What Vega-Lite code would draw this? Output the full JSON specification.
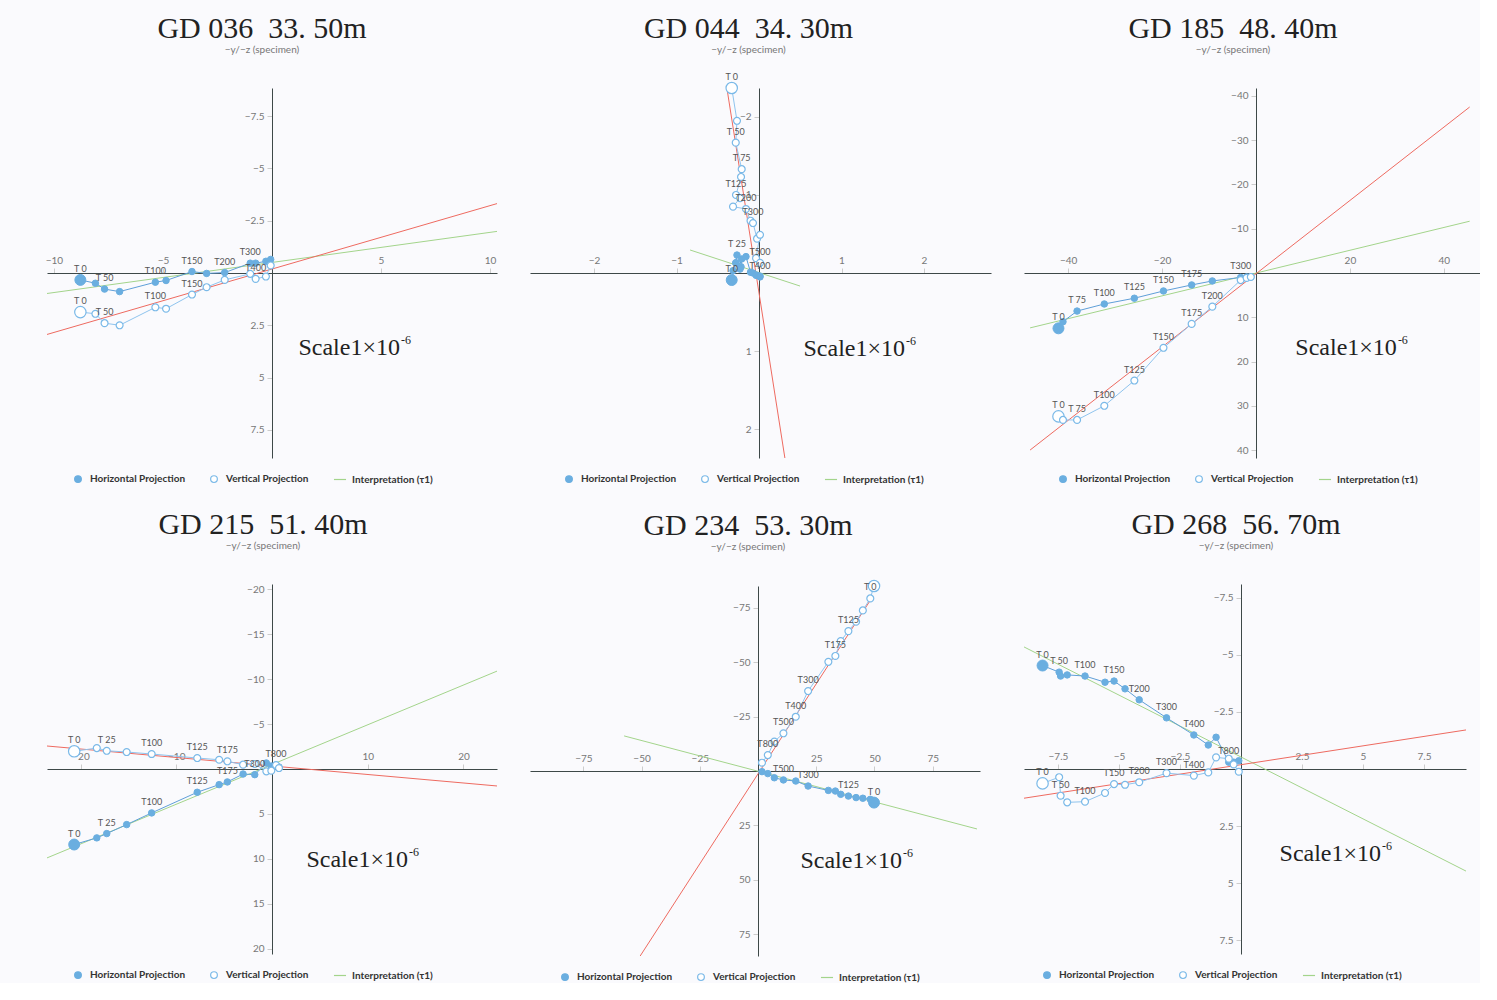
{
  "$schema": "https://vega.github.io/schema/vega-lite/v6.json",
  "background": "#fafafd",
  "padding": {"left": 45, "top": 14, "right": 0, "bottom": 0},
  "columns": 3,
  "align": "none",
  "spacing": {"row": 25, "column": 33},
  "resolve": {
    "scale": {"fill": "independent", "stroke": "independent", "shape": "independent"},
    "legend": {"fill": "independent", "stroke": "independent", "shape": "independent"}
  },
  "datasets": {
    "d": [
      {"t":"h","p":1,"i":1,"x":-8.79,"y":0.33,"lab":"T 0"},
      {"t":"h","p":1,"i":2,"x":-8.1,"y":0.49},
      {"t":"h","p":1,"i":3,"x":-7.68,"y":0.77,"lab":"T 50"},
      {"t":"h","p":1,"i":4,"x":-6.99,"y":0.89},
      {"t":"h","p":1,"i":5,"x":-5.35,"y":0.44,"lab":"T100"},
      {"t":"h","p":1,"i":6,"x":-4.86,"y":0.36},
      {"t":"h","p":1,"i":7,"x":-3.67,"y":-0.07,"lab":"T150"},
      {"t":"h","p":1,"i":8,"x":-3.0,"y":0.02},
      {"t":"h","p":1,"i":9,"x":-2.17,"y":-0.02,"lab":"T200"},
      {"t":"h","p":1,"i":10,"x":-1.0,"y":-0.47,"lab":"T300"},
      {"t":"h","p":1,"i":11,"x":-0.75,"y":-0.47},
      {"t":"h","p":1,"i":12,"x":-0.28,"y":-0.56},
      {"t":"h","p":1,"i":13,"x":-0.06,"y":-0.65},
      {"t":"v","p":1,"i":1,"x":-8.79,"y":1.87,"lab":"T 0"},
      {"t":"v","p":1,"i":2,"x":-8.1,"y":1.95},
      {"t":"v","p":1,"i":3,"x":-7.68,"y":2.4,"lab":"T 50"},
      {"t":"v","p":1,"i":4,"x":-6.99,"y":2.5},
      {"t":"v","p":1,"i":5,"x":-5.35,"y":1.64,"lab":"T100"},
      {"t":"v","p":1,"i":6,"x":-4.86,"y":1.71},
      {"t":"v","p":1,"i":7,"x":-3.67,"y":1.03,"lab":"T150"},
      {"t":"v","p":1,"i":8,"x":-3.0,"y":0.68},
      {"t":"v","p":1,"i":9,"x":-2.17,"y":0.33},
      {"t":"v","p":1,"i":10,"x":-1.0,"y":0.04},
      {"t":"v","p":1,"i":11,"x":-0.75,"y":0.28,"lab":"T400"},
      {"t":"v","p":1,"i":12,"x":-0.28,"y":0.17},
      {"t":"v","p":1,"i":13,"x":-0.06,"y":-0.36},
      {"t":"lh","p":1,"x":-10.32,"y":0.98},
      {"t":"lh","p":1,"x":10.32,"y":-1.99},
      {"t":"lv","p":1,"x":-10.32,"y":2.94},
      {"t":"lv","p":1,"x":10.32,"y":-3.32},
      {"t":"s","p":1,"x":5.87,"y":3.6},

      {"t":"h","p":2,"i":1,"x":-0.331,"y":0.09,"lab":"T 0"},
      {"t":"h","p":2,"i":2,"x":-0.267,"y":-0.23,"lab":"T 25"},
      {"t":"h","p":2,"i":3,"x":-0.282,"y":-0.13},
      {"t":"h","p":2,"i":4,"x":-0.21,"y":-0.18},
      {"t":"h","p":2,"i":5,"x":-0.218,"y":-0.08},
      {"t":"h","p":2,"i":6,"x":-0.279,"y":-0.13},
      {"t":"h","p":2,"i":7,"x":-0.23,"y":-0.05},
      {"t":"h","p":2,"i":8,"x":-0.315,"y":-0.03},
      {"t":"h","p":2,"i":9,"x":-0.158,"y":-0.21},
      {"t":"h","p":2,"i":10,"x":-0.103,"y":-0.01},
      {"t":"h","p":2,"i":11,"x":-0.073,"y":0.0},
      {"t":"h","p":2,"i":12,"x":-0.024,"y":0.03},
      {"t":"h","p":2,"i":13,"x":0.012,"y":0.05,"lab":"T400"},
      {"t":"h","p":2,"i":14,"x":-0.036,"y":0.03},
      {"t":"h","p":2,"i":15,"x":0.012,"y":0.04},
      {"t":"v","p":2,"i":1,"x":-0.331,"y":-2.37,"lab":"T 0"},
      {"t":"v","p":2,"i":2,"x":-0.267,"y":-1.95},
      {"t":"v","p":2,"i":3,"x":-0.282,"y":-1.67,"lab":"T 50"},
      {"t":"v","p":2,"i":4,"x":-0.21,"y":-1.33,"lab":"T 75"},
      {"t":"v","p":2,"i":5,"x":-0.218,"y":-1.23},
      {"t":"v","p":2,"i":6,"x":-0.279,"y":-1.0,"lab":"T125"},
      {"t":"v","p":2,"i":7,"x":-0.23,"y":-0.96},
      {"t":"v","p":2,"i":8,"x":-0.315,"y":-0.85},
      {"t":"v","p":2,"i":9,"x":-0.158,"y":-0.82,"lab":"T200"},
      {"t":"v","p":2,"i":10,"x":-0.103,"y":-0.67},
      {"t":"v","p":2,"i":11,"x":-0.073,"y":-0.64,"lab":"T300"},
      {"t":"v","p":2,"i":12,"x":-0.024,"y":-0.44},
      {"t":"v","p":2,"i":13,"x":0.012,"y":-0.49},
      {"t":"v","p":2,"i":14,"x":-0.036,"y":-0.19},
      {"t":"v","p":2,"i":15,"x":0.012,"y":-0.13,"lab":"T500"},
      {"t":"lh","p":2,"x":-0.836,"y":-0.295},
      {"t":"lh","p":2,"x":0.497,"y":0.167},
      {"t":"lv","p":2,"x":-0.388,"y":-2.36},
      {"t":"lv","p":2,"x":0.315,"y":2.38},
      {"t":"s","p":2,"x":1.77,"y":0.97},

      {"t":"h","p":3,"i":1,"x":-42.06,"y":12.5,"lab":"T 0"},
      {"t":"h","p":3,"i":2,"x":-41.1,"y":11.0},
      {"t":"h","p":3,"i":3,"x":-38.1,"y":8.6,"lab":"T 75"},
      {"t":"h","p":3,"i":4,"x":-32.3,"y":7.0,"lab":"T100"},
      {"t":"h","p":3,"i":5,"x":-25.9,"y":5.7,"lab":"T125"},
      {"t":"h","p":3,"i":6,"x":-19.7,"y":4.06,"lab":"T150"},
      {"t":"h","p":3,"i":7,"x":-13.7,"y":2.7,"lab":"T175"},
      {"t":"h","p":3,"i":8,"x":-9.3,"y":1.8},
      {"t":"h","p":3,"i":9,"x":-3.26,"y":1.0,"lab":"T300"},
      {"t":"h","p":3,"i":10,"x":-2.0,"y":0.9},
      {"t":"h","p":3,"i":11,"x":-1.1,"y":0.9},
      {"t":"v","p":3,"i":1,"x":-42.06,"y":32.4,"lab":"T 0"},
      {"t":"v","p":3,"i":2,"x":-41.1,"y":33.2},
      {"t":"v","p":3,"i":3,"x":-38.1,"y":33.2,"lab":"T 75"},
      {"t":"v","p":3,"i":4,"x":-32.3,"y":30.0,"lab":"T100"},
      {"t":"v","p":3,"i":5,"x":-25.9,"y":24.3,"lab":"T125"},
      {"t":"v","p":3,"i":6,"x":-19.7,"y":16.9,"lab":"T150"},
      {"t":"v","p":3,"i":7,"x":-13.7,"y":11.5,"lab":"T175"},
      {"t":"v","p":3,"i":8,"x":-9.3,"y":7.6,"lab":"T200"},
      {"t":"v","p":3,"i":9,"x":-3.26,"y":1.6},
      {"t":"v","p":3,"i":10,"x":-2.0,"y":1.1},
      {"t":"v","p":3,"i":11,"x":-1.1,"y":0.9},
      {"t":"lh","p":3,"x":-48.1,"y":12.4},
      {"t":"lh","p":3,"x":45.5,"y":-11.7},
      {"t":"lv","p":3,"x":-48.1,"y":40.0},
      {"t":"lv","p":3,"x":45.5,"y":-37.5},
      {"t":"s","p":3,"x":30.0,"y":16.9},

      {"t":"h","p":4,"i":1,"x":-20.66,"y":8.41,"lab":"T 0"},
      {"t":"h","p":4,"i":2,"x":-18.3,"y":7.67},
      {"t":"h","p":4,"i":3,"x":-17.26,"y":7.19,"lab":"T 25"},
      {"t":"h","p":4,"i":4,"x":-15.18,"y":6.19},
      {"t":"h","p":4,"i":5,"x":-12.57,"y":4.89,"lab":"T100"},
      {"t":"h","p":4,"i":6,"x":-7.81,"y":2.59,"lab":"T125"},
      {"t":"h","p":4,"i":7,"x":-5.52,"y":1.74},
      {"t":"h","p":4,"i":8,"x":-4.66,"y":1.44,"lab":"T175"},
      {"t":"h","p":4,"i":9,"x":-3.02,"y":0.56},
      {"t":"h","p":4,"i":10,"x":-1.8,"y":0.63,"lab":"T300"},
      {"t":"h","p":4,"i":11,"x":-0.59,"y":-0.67},
      {"t":"h","p":4,"i":12,"x":-0.07,"y":-0.33},
      {"t":"h","p":4,"i":13,"x":0.42,"y":-0.44},
      {"t":"h","p":4,"i":14,"x":0.73,"y":-0.22},
      {"t":"v","p":4,"i":1,"x":-20.66,"y":-1.97,"lab":"T 0"},
      {"t":"v","p":4,"i":2,"x":-18.3,"y":-2.33},
      {"t":"v","p":4,"i":3,"x":-17.26,"y":-2.03,"lab":"T 25"},
      {"t":"v","p":4,"i":4,"x":-15.18,"y":-1.89},
      {"t":"v","p":4,"i":5,"x":-12.57,"y":-1.67,"lab":"T100"},
      {"t":"v","p":4,"i":6,"x":-7.81,"y":-1.22,"lab":"T125"},
      {"t":"v","p":4,"i":7,"x":-5.52,"y":-1.03},
      {"t":"v","p":4,"i":8,"x":-4.66,"y":-0.86,"lab":"T175"},
      {"t":"v","p":4,"i":9,"x":-3.02,"y":-0.48},
      {"t":"v","p":4,"i":10,"x":-1.8,"y":-0.56},
      {"t":"v","p":4,"i":11,"x":-0.59,"y":0.26},
      {"t":"v","p":4,"i":12,"x":-0.07,"y":0.19},
      {"t":"v","p":4,"i":13,"x":0.42,"y":-0.44,"lab":"T800"},
      {"t":"v","p":4,"i":14,"x":0.73,"y":-0.11},
      {"t":"lh","p":4,"x":-23.5,"y":9.9},
      {"t":"lh","p":4,"x":23.5,"y":-10.9},
      {"t":"lv","p":4,"x":-23.5,"y":-2.56},
      {"t":"lv","p":4,"x":23.5,"y":1.89},
      {"t":"s","p":4,"x":14.2,"y":10.1},

      {"t":"h","p":5,"i":1,"x":49.8,"y":14.5,"lab":"T 0"},
      {"t":"h","p":5,"i":2,"x":48.2,"y":13.0},
      {"t":"h","p":5,"i":3,"x":45.0,"y":12.5},
      {"t":"h","p":5,"i":4,"x":42.1,"y":12.2},
      {"t":"h","p":5,"i":5,"x":38.8,"y":11.5,"lab":"T125"},
      {"t":"h","p":5,"i":6,"x":35.5,"y":10.7},
      {"t":"h","p":5,"i":7,"x":33.2,"y":9.2},
      {"t":"h","p":5,"i":8,"x":30.2,"y":8.9},
      {"t":"h","p":5,"i":9,"x":21.5,"y":6.9,"lab":"T300"},
      {"t":"h","p":5,"i":10,"x":16.2,"y":4.6},
      {"t":"h","p":5,"i":11,"x":10.9,"y":4.1,"lab":"T500"},
      {"t":"h","p":5,"i":12,"x":7.0,"y":3.1},
      {"t":"h","p":5,"i":13,"x":4.2,"y":1.2},
      {"t":"h","p":5,"i":14,"x":1.7,"y":0.3},
      {"t":"v","p":5,"i":1,"x":49.8,"y":-84.9},
      {"t":"v","p":5,"i":2,"x":48.2,"y":-79.2,"lab":"T 0"},
      {"t":"v","p":5,"i":3,"x":45.0,"y":-73.7},
      {"t":"v","p":5,"i":4,"x":42.1,"y":-68.5},
      {"t":"v","p":5,"i":5,"x":38.8,"y":-64.2,"lab":"T125"},
      {"t":"v","p":5,"i":6,"x":35.5,"y":-59.6},
      {"t":"v","p":5,"i":7,"x":33.2,"y":-52.8,"lab":"T175"},
      {"t":"v","p":5,"i":8,"x":30.2,"y":-50.1},
      {"t":"v","p":5,"i":9,"x":21.5,"y":-36.7,"lab":"T300"},
      {"t":"v","p":5,"i":10,"x":16.2,"y":-24.9,"lab":"T400"},
      {"t":"v","p":5,"i":11,"x":10.9,"y":-17.3,"lab":"T500"},
      {"t":"v","p":5,"i":12,"x":7.0,"y":-13.5},
      {"t":"v","p":5,"i":13,"x":4.2,"y":-7.3,"lab":"T800"},
      {"t":"v","p":5,"i":14,"x":1.7,"y":-3.8},
      {"t":"lh","p":5,"x":-57.5,"y":-16.1},
      {"t":"lh","p":5,"x":94.0,"y":26.6},
      {"t":"lv","p":5,"x":-50.6,"y":84.9},
      {"t":"lv","p":5,"x":49.4,"y":-80.3},
      {"t":"s","p":5,"x":61.8,"y":41.3},

      {"t":"h","p":6,"i":1,"x":-8.13,"y":-4.53,"lab":"T 0"},
      {"t":"h","p":6,"i":2,"x":-7.45,"y":-4.24,"lab":"T 50"},
      {"t":"h","p":6,"i":3,"x":-7.39,"y":-4.07},
      {"t":"h","p":6,"i":4,"x":-7.12,"y":-4.12},
      {"t":"h","p":6,"i":5,"x":-6.39,"y":-4.07,"lab":"T100"},
      {"t":"h","p":6,"i":6,"x":-5.57,"y":-3.8},
      {"t":"h","p":6,"i":7,"x":-5.2,"y":-3.85,"lab":"T150"},
      {"t":"h","p":6,"i":8,"x":-4.75,"y":-3.51},
      {"t":"h","p":6,"i":9,"x":-4.17,"y":-3.03,"lab":"T200"},
      {"t":"h","p":6,"i":10,"x":-3.05,"y":-2.24,"lab":"T300"},
      {"t":"h","p":6,"i":11,"x":-1.93,"y":-1.49,"lab":"T400"},
      {"t":"h","p":6,"i":12,"x":-1.34,"y":-1.05},
      {"t":"h","p":6,"i":13,"x":-1.02,"y":-1.39},
      {"t":"h","p":6,"i":14,"x":-0.5,"y":-0.3,"lab":"T800"},
      {"t":"h","p":6,"i":15,"x":-0.3,"y":-0.3},
      {"t":"h","p":6,"i":16,"x":-0.09,"y":-0.36},
      {"t":"v","p":6,"i":1,"x":-8.13,"y":0.63,"lab":"T 0"},
      {"t":"v","p":6,"i":2,"x":-7.45,"y":0.36},
      {"t":"v","p":6,"i":3,"x":-7.39,"y":1.17,"lab":"T 50"},
      {"t":"v","p":6,"i":4,"x":-7.12,"y":1.46},
      {"t":"v","p":6,"i":5,"x":-6.39,"y":1.43,"lab":"T100"},
      {"t":"v","p":6,"i":6,"x":-5.57,"y":1.05},
      {"t":"v","p":6,"i":7,"x":-5.2,"y":0.66,"lab":"T150"},
      {"t":"v","p":6,"i":8,"x":-4.75,"y":0.69},
      {"t":"v","p":6,"i":9,"x":-4.17,"y":0.58,"lab":"T200"},
      {"t":"v","p":6,"i":10,"x":-3.05,"y":0.18,"lab":"T300"},
      {"t":"v","p":6,"i":11,"x":-1.93,"y":0.29,"lab":"T400"},
      {"t":"v","p":6,"i":12,"x":-1.34,"y":0.15},
      {"t":"v","p":6,"i":13,"x":-1.02,"y":-0.51},
      {"t":"v","p":6,"i":14,"x":-0.5,"y":-0.45},
      {"t":"v","p":6,"i":15,"x":-0.3,"y":-0.2},
      {"t":"v","p":6,"i":16,"x":-0.09,"y":0.12},
      {"t":"lh","p":6,"x":-9.14,"y":-5.48},
      {"t":"lh","p":6,"x":9.22,"y":4.47},
      {"t":"lv","p":6,"x":-9.14,"y":1.32},
      {"t":"lv","p":6,"x":9.22,"y":-1.71},
      {"t":"s","p":6,"x":5.74,"y":3.7}
    ]
  },
  "concat": [
    {
      "width": 450, "height": 370,
      "title": {"text": "GD 036\u00a0\u00a033. 50m", "subtitle": "−y/−z (specimen)", "dx": -10},
      "data": {"name": "d"},
      "transform": [{"filter": "datum.p == 1"}],
      "encoding": {
        "x": {"field": "x", "type": "quantitative", "scale": {"domain": [-10.32, 10.32], "nice": false, "zero": false}, "axis": {"orient": "top", "offset": -185, "values": [-10, -5, 5, 10], "format": ".3~r"}},
        "y": {"field": "y", "type": "quantitative", "scale": {"domain": [-8.85, 8.85], "nice": false, "zero": false, "reverse": true}, "axis": {"orient": "left", "offset": -225, "values": [-7.5, -5, -2.5, 2.5, 5, 7.5], "format": ".3~r"}}
      },
      "layer": [
        {"transform": [{"filter": "datum.t == 'lh' || datum.t == 'lv'"}], "mark": {"type": "line", "clip": true, "strokeWidth": 1}, "encoding": {"detail": {"field": "t"}, "stroke": {"condition": {"test": "datum.t == 'lh'", "value": "#a3d48b"}, "value": "#ee6a60"}}},
        {"transform": [{"filter": "datum.t == 'h'"}], "mark": {"type": "line", "color": "#5f9fd8", "strokeWidth": 1}, "encoding": {"order": {"field": "i"}}},
        {"transform": [{"filter": "datum.t == 'v'"}], "mark": {"type": "line", "color": "#8fc4ee", "strokeWidth": 1}, "encoding": {"order": {"field": "i"}}},
        {"transform": [{"filter": "datum.t == 'h'"}], "mark": {"type": "point", "opacity": 1, "strokeWidth": 1},
         "encoding": {
           "size": {"condition": {"test": "datum.i == 1", "value": 120}, "value": 42},
           "fill": {"datum": "Horizontal Projection", "type": "nominal", "scale": {"domain": ["Horizontal Projection", "Vertical Projection", "Interpretation (τ1)"], "range": ["#6aaee0", "#ffffff", "transparent"]}, "legend": {"orient": "none", "legendX": 26, "legendY": 386, "direction": "horizontal", "title": null}},
           "stroke": {"datum": "Horizontal Projection", "type": "nominal", "scale": {"domain": ["Horizontal Projection", "Vertical Projection", "Interpretation (τ1)"], "range": ["#6aaee0", "#7ab9e8", "#a3d48b"]}, "legend": {"orient": "none", "legendX": 26, "legendY": 386, "direction": "horizontal", "title": null}},
           "shape": {"datum": "Horizontal Projection", "type": "nominal", "scale": {"domain": ["Horizontal Projection", "Vertical Projection", "Interpretation (τ1)"], "range": ["circle", "circle", "M-1.8,0H1.8"]}, "legend": {"orient": "none", "legendX": 26, "legendY": 386, "direction": "horizontal", "title": null}}
         }},
        {"transform": [{"filter": "datum.t == 'v'"}], "mark": {"type": "point", "opacity": 1, "strokeWidth": 1.2},
         "encoding": {
           "size": {"condition": {"test": "datum.i == 1", "value": 130}, "value": 48},
           "fill": {"datum": "Vertical Projection", "type": "nominal"},
           "stroke": {"datum": "Vertical Projection", "type": "nominal"},
           "shape": {"datum": "Vertical Projection", "type": "nominal"}
         }},
        {"transform": [{"filter": "(datum.t == 'h' || datum.t == 'v') && datum.lab"}], "mark": {"type": "text", "dy": -11, "fontSize": 9, "font": "Lato", "color": "#555555"}, "encoding": {"text": {"field": "lab"}}},
        {"transform": [{"filter": "datum.t == 's'"}], "mark": {"type": "text", "align": "right", "baseline": "middle", "font": "Liberation Serif", "fontSize": 24, "color": "#222222"}, "encoding": {"text": {"value": "Scale1×10"}}},
        {"transform": [{"filter": "datum.t == 's'"}], "mark": {"type": "text", "align": "left", "baseline": "middle", "dy": -8, "dx": 1, "font": "Liberation Serif", "fontSize": 12, "color": "#222222"}, "encoding": {"text": {"value": "-6"}}}
      ]
    },
    {
      "width": 461, "height": 370,
      "title": {"text": "GD 044\u00a0\u00a034. 30m", "subtitle": "−y/−z (specimen)", "dx": -12, "offset": 18},
      "data": {"name": "d"},
      "transform": [{"filter": "datum.p == 2"}],
      "encoding": {
        "x": {"field": "x", "type": "quantitative", "scale": {"domain": [-2.776, 2.812], "nice": false, "zero": false}, "axis": {"orient": "top", "offset": -185, "values": [-2, -1, 1, 2], "format": ".3~r"}},
        "y": {"field": "y", "type": "quantitative", "scale": {"domain": [-2.37, 2.37], "nice": false, "zero": false, "reverse": true}, "axis": {"orient": "left", "offset": -229, "values": [-2, -1, 1, 2], "format": ".3~r"}}
      },
      "layer": [
        {"transform": [{"filter": "datum.t == 'lh' || datum.t == 'lv'"}], "mark": {"type": "line", "clip": true, "strokeWidth": 1}, "encoding": {"detail": {"field": "t"}, "stroke": {"condition": {"test": "datum.t == 'lh'", "value": "#a3d48b"}, "value": "#ee6a60"}}},
        {"transform": [{"filter": "datum.t == 'h'"}], "mark": {"type": "line", "color": "#5f9fd8", "strokeWidth": 1}, "encoding": {"order": {"field": "i"}}},
        {"transform": [{"filter": "datum.t == 'v'"}], "mark": {"type": "line", "color": "#8fc4ee", "strokeWidth": 1}, "encoding": {"order": {"field": "i"}}},
        {"transform": [{"filter": "datum.t == 'h'"}], "mark": {"type": "point", "opacity": 1, "strokeWidth": 1},
         "encoding": {
           "size": {"condition": {"test": "datum.i == 1", "value": 120}, "value": 42},
           "fill": {"datum": "Horizontal Projection", "type": "nominal", "scale": {"domain": ["Horizontal Projection", "Vertical Projection", "Interpretation (τ1)"], "range": ["#6aaee0", "#ffffff", "transparent"]}, "legend": {"orient": "none", "legendX": 34, "legendY": 386, "direction": "horizontal", "title": null}},
           "stroke": {"datum": "Horizontal Projection", "type": "nominal", "scale": {"domain": ["Horizontal Projection", "Vertical Projection", "Interpretation (τ1)"], "range": ["#6aaee0", "#7ab9e8", "#a3d48b"]}, "legend": {"orient": "none", "legendX": 34, "legendY": 386, "direction": "horizontal", "title": null}},
           "shape": {"datum": "Horizontal Projection", "type": "nominal", "scale": {"domain": ["Horizontal Projection", "Vertical Projection", "Interpretation (τ1)"], "range": ["circle", "circle", "M-1.8,0H1.8"]}, "legend": {"orient": "none", "legendX": 34, "legendY": 386, "direction": "horizontal", "title": null}}
         }},
        {"transform": [{"filter": "datum.t == 'v'"}], "mark": {"type": "point", "opacity": 1, "strokeWidth": 1.2},
         "encoding": {
           "size": {"condition": {"test": "datum.i == 1", "value": 130}, "value": 48},
           "fill": {"datum": "Vertical Projection", "type": "nominal"},
           "stroke": {"datum": "Vertical Projection", "type": "nominal"},
           "shape": {"datum": "Vertical Projection", "type": "nominal"}
         }},
        {"transform": [{"filter": "(datum.t == 'h' || datum.t == 'v') && datum.lab"}], "mark": {"type": "text", "dy": -11, "fontSize": 9, "font": "Lato", "color": "#555555"}, "encoding": {"text": {"field": "lab"}}},
        {"transform": [{"filter": "datum.t == 's'"}], "mark": {"type": "text", "align": "right", "baseline": "middle", "font": "Liberation Serif", "fontSize": 24, "color": "#222222"}, "encoding": {"text": {"value": "Scale1×10"}}},
        {"transform": [{"filter": "datum.t == 's'"}], "mark": {"type": "text", "align": "left", "baseline": "middle", "dy": -8, "dx": 1, "font": "Liberation Serif", "fontSize": 12, "color": "#222222"}, "encoding": {"text": {"value": "-6"}}}
      ]
    },
    {
      "width": 456, "height": 370,
      "title": {"text": "GD 185\u00a0\u00a048. 40m", "subtitle": "−y/−z (specimen)", "dx": -19},
      "data": {"name": "d"},
      "transform": [{"filter": "datum.p == 3"}],
      "encoding": {
        "x": {"field": "x", "type": "quantitative", "scale": {"domain": [-49.4, 47.7], "nice": false, "zero": false}, "axis": {"orient": "top", "offset": -185, "values": [-40, -20, 20, 40], "format": ".3~r"}},
        "y": {"field": "y", "type": "quantitative", "scale": {"domain": [-41.8, 41.8], "nice": false, "zero": false, "reverse": true}, "axis": {"orient": "left", "offset": -232, "values": [-40, -30, -20, -10, 10, 20, 30, 40], "format": ".3~r"}}
      },
      "layer": [
        {"transform": [{"filter": "datum.t == 'lh' || datum.t == 'lv'"}], "mark": {"type": "line", "clip": true, "strokeWidth": 1}, "encoding": {"detail": {"field": "t"}, "stroke": {"condition": {"test": "datum.t == 'lh'", "value": "#a3d48b"}, "value": "#ee6a60"}}},
        {"transform": [{"filter": "datum.t == 'h'"}], "mark": {"type": "line", "color": "#5f9fd8", "strokeWidth": 1}, "encoding": {"order": {"field": "i"}}},
        {"transform": [{"filter": "datum.t == 'v'"}], "mark": {"type": "line", "color": "#8fc4ee", "strokeWidth": 1}, "encoding": {"order": {"field": "i"}}},
        {"transform": [{"filter": "datum.t == 'h'"}], "mark": {"type": "point", "opacity": 1, "strokeWidth": 1},
         "encoding": {
           "size": {"condition": {"test": "datum.i == 1", "value": 120}, "value": 42},
           "fill": {"datum": "Horizontal Projection", "type": "nominal", "scale": {"domain": ["Horizontal Projection", "Vertical Projection", "Interpretation (τ1)"], "range": ["#6aaee0", "#ffffff", "transparent"]}, "legend": {"orient": "none", "legendX": 34, "legendY": 386, "direction": "horizontal", "title": null}},
           "stroke": {"datum": "Horizontal Projection", "type": "nominal", "scale": {"domain": ["Horizontal Projection", "Vertical Projection", "Interpretation (τ1)"], "range": ["#6aaee0", "#7ab9e8", "#a3d48b"]}, "legend": {"orient": "none", "legendX": 34, "legendY": 386, "direction": "horizontal", "title": null}},
           "shape": {"datum": "Horizontal Projection", "type": "nominal", "scale": {"domain": ["Horizontal Projection", "Vertical Projection", "Interpretation (τ1)"], "range": ["circle", "circle", "M-1.8,0H1.8"]}, "legend": {"orient": "none", "legendX": 34, "legendY": 386, "direction": "horizontal", "title": null}}
         }},
        {"transform": [{"filter": "datum.t == 'v'"}], "mark": {"type": "point", "opacity": 1, "strokeWidth": 1.2},
         "encoding": {
           "size": {"condition": {"test": "datum.i == 1", "value": 130}, "value": 48},
           "fill": {"datum": "Vertical Projection", "type": "nominal"},
           "stroke": {"datum": "Vertical Projection", "type": "nominal"},
           "shape": {"datum": "Vertical Projection", "type": "nominal"}
         }},
        {"transform": [{"filter": "(datum.t == 'h' || datum.t == 'v') && datum.lab"}], "mark": {"type": "text", "dy": -11, "fontSize": 9, "font": "Lato", "color": "#555555"}, "encoding": {"text": {"field": "lab"}}},
        {"transform": [{"filter": "datum.t == 's'"}], "mark": {"type": "text", "align": "right", "baseline": "middle", "font": "Liberation Serif", "fontSize": 24, "color": "#222222"}, "encoding": {"text": {"value": "Scale1×10"}}},
        {"transform": [{"filter": "datum.t == 's'"}], "mark": {"type": "text", "align": "left", "baseline": "middle", "dy": -8, "dx": 1, "font": "Liberation Serif", "fontSize": 12, "color": "#222222"}, "encoding": {"text": {"value": "-6"}}}
      ]
    },
    {
      "width": 450, "height": 370,
      "title": {"text": "GD 215\u00a0\u00a051. 40m", "subtitle": "−y/−z (specimen)", "dx": -9},
      "data": {"name": "d"},
      "transform": [{"filter": "datum.p == 4"}],
      "encoding": {
        "x": {"field": "x", "type": "quantitative", "scale": {"domain": [-23.5, 23.5], "nice": false, "zero": false}, "axis": {"orient": "top", "offset": -185, "values": [-20, -10, 10, 20], "format": ".3~r"}},
        "y": {"field": "y", "type": "quantitative", "scale": {"domain": [-20.6, 20.6], "nice": false, "zero": false, "reverse": true}, "axis": {"orient": "left", "offset": -225, "values": [-20, -15, -10, -5, 5, 10, 15, 20], "format": ".3~r"}}
      },
      "layer": [
        {"transform": [{"filter": "datum.t == 'lh' || datum.t == 'lv'"}], "mark": {"type": "line", "clip": true, "strokeWidth": 1}, "encoding": {"detail": {"field": "t"}, "stroke": {"condition": {"test": "datum.t == 'lh'", "value": "#a3d48b"}, "value": "#ee6a60"}}},
        {"transform": [{"filter": "datum.t == 'h'"}], "mark": {"type": "line", "color": "#5f9fd8", "strokeWidth": 1}, "encoding": {"order": {"field": "i"}}},
        {"transform": [{"filter": "datum.t == 'v'"}], "mark": {"type": "line", "color": "#8fc4ee", "strokeWidth": 1}, "encoding": {"order": {"field": "i"}}},
        {"transform": [{"filter": "datum.t == 'h'"}], "mark": {"type": "point", "opacity": 1, "strokeWidth": 1},
         "encoding": {
           "size": {"condition": {"test": "datum.i == 1", "value": 120}, "value": 42},
           "fill": {"datum": "Horizontal Projection", "type": "nominal", "scale": {"domain": ["Horizontal Projection", "Vertical Projection", "Interpretation (τ1)"], "range": ["#6aaee0", "#ffffff", "transparent"]}, "legend": {"orient": "none", "legendX": 26, "legendY": 386, "direction": "horizontal", "title": null}},
           "stroke": {"datum": "Horizontal Projection", "type": "nominal", "scale": {"domain": ["Horizontal Projection", "Vertical Projection", "Interpretation (τ1)"], "range": ["#6aaee0", "#7ab9e8", "#a3d48b"]}, "legend": {"orient": "none", "legendX": 26, "legendY": 386, "direction": "horizontal", "title": null}},
           "shape": {"datum": "Horizontal Projection", "type": "nominal", "scale": {"domain": ["Horizontal Projection", "Vertical Projection", "Interpretation (τ1)"], "range": ["circle", "circle", "M-1.8,0H1.8"]}, "legend": {"orient": "none", "legendX": 26, "legendY": 386, "direction": "horizontal", "title": null}}
         }},
        {"transform": [{"filter": "datum.t == 'v'"}], "mark": {"type": "point", "opacity": 1, "strokeWidth": 1.2},
         "encoding": {
           "size": {"condition": {"test": "datum.i == 1", "value": 130}, "value": 48},
           "fill": {"datum": "Vertical Projection", "type": "nominal"},
           "stroke": {"datum": "Vertical Projection", "type": "nominal"},
           "shape": {"datum": "Vertical Projection", "type": "nominal"}
         }},
        {"transform": [{"filter": "(datum.t == 'h' || datum.t == 'v') && datum.lab"}], "mark": {"type": "text", "dy": -11, "fontSize": 9, "font": "Lato", "color": "#555555"}, "encoding": {"text": {"field": "lab"}}},
        {"transform": [{"filter": "datum.t == 's'"}], "mark": {"type": "text", "align": "right", "baseline": "middle", "font": "Liberation Serif", "fontSize": 24, "color": "#222222"}, "encoding": {"text": {"value": "Scale1×10"}}},
        {"transform": [{"filter": "datum.t == 's'"}], "mark": {"type": "text", "align": "left", "baseline": "middle", "dy": -8, "dx": 1, "font": "Liberation Serif", "fontSize": 12, "color": "#222222"}, "encoding": {"text": {"value": "-6"}}}
      ]
    },
    {
      "width": 450, "height": 370,
      "title": {"text": "GD 234\u00a0\u00a053. 30m", "subtitle": "−y/−z (specimen)", "dx": -7, "offset": 26},
      "data": {"name": "d"},
      "transform": [{"filter": "datum.p == 5"}],
      "encoding": {
        "x": {"field": "x", "type": "quantitative", "scale": {"domain": [-97.9, 95.3], "nice": false, "zero": false}, "axis": {"orient": "top", "offset": -185, "values": [-75, -50, -25, 25, 50, 75], "format": ".3~r"}},
        "y": {"field": "y", "type": "quantitative", "scale": {"domain": [-84.9, 84.9], "nice": false, "zero": false, "reverse": true}, "axis": {"orient": "left", "offset": -228, "values": [-75, -50, -25, 25, 50, 75], "format": ".3~r"}}
      },
      "layer": [
        {"transform": [{"filter": "datum.t == 'lh' || datum.t == 'lv'"}], "mark": {"type": "line", "clip": true, "strokeWidth": 1}, "encoding": {"detail": {"field": "t"}, "stroke": {"condition": {"test": "datum.t == 'lh'", "value": "#a3d48b"}, "value": "#ee6a60"}}},
        {"transform": [{"filter": "datum.t == 'h'"}], "mark": {"type": "line", "color": "#5f9fd8", "strokeWidth": 1}, "encoding": {"order": {"field": "i"}}},
        {"transform": [{"filter": "datum.t == 'v'"}], "mark": {"type": "line", "color": "#8fc4ee", "strokeWidth": 1}, "encoding": {"order": {"field": "i"}}},
        {"transform": [{"filter": "datum.t == 'h'"}], "mark": {"type": "point", "opacity": 1, "strokeWidth": 1},
         "encoding": {
           "size": {"condition": {"test": "datum.i == 1", "value": 120}, "value": 42},
           "fill": {"datum": "Horizontal Projection", "type": "nominal", "scale": {"domain": ["Horizontal Projection", "Vertical Projection", "Interpretation (τ1)"], "range": ["#6aaee0", "#ffffff", "transparent"]}, "legend": {"orient": "none", "legendX": 30, "legendY": 386, "direction": "horizontal", "title": null}},
           "stroke": {"datum": "Horizontal Projection", "type": "nominal", "scale": {"domain": ["Horizontal Projection", "Vertical Projection", "Interpretation (τ1)"], "range": ["#6aaee0", "#7ab9e8", "#a3d48b"]}, "legend": {"orient": "none", "legendX": 30, "legendY": 386, "direction": "horizontal", "title": null}},
           "shape": {"datum": "Horizontal Projection", "type": "nominal", "scale": {"domain": ["Horizontal Projection", "Vertical Projection", "Interpretation (τ1)"], "range": ["circle", "circle", "M-1.8,0H1.8"]}, "legend": {"orient": "none", "legendX": 30, "legendY": 386, "direction": "horizontal", "title": null}}
         }},
        {"transform": [{"filter": "datum.t == 'v'"}], "mark": {"type": "point", "opacity": 1, "strokeWidth": 1.2},
         "encoding": {
           "size": {"condition": {"test": "datum.i == 1", "value": 130}, "value": 48},
           "fill": {"datum": "Vertical Projection", "type": "nominal"},
           "stroke": {"datum": "Vertical Projection", "type": "nominal"},
           "shape": {"datum": "Vertical Projection", "type": "nominal"}
         }},
        {"transform": [{"filter": "(datum.t == 'h' || datum.t == 'v') && datum.lab"}], "mark": {"type": "text", "dy": -11, "fontSize": 9, "font": "Lato", "color": "#555555"}, "encoding": {"text": {"field": "lab"}}},
        {"transform": [{"filter": "datum.t == 's'"}], "mark": {"type": "text", "align": "right", "baseline": "middle", "font": "Liberation Serif", "fontSize": 24, "color": "#222222"}, "encoding": {"text": {"value": "Scale1×10"}}},
        {"transform": [{"filter": "datum.t == 's'"}], "mark": {"type": "text", "align": "left", "baseline": "middle", "dy": -8, "dx": 1, "font": "Liberation Serif", "fontSize": 12, "color": "#222222"}, "encoding": {"text": {"value": "-6"}}}
      ]
    },
    {
      "width": 442, "height": 370,
      "title": {"text": "GD 268\u00a0\u00a056. 70m", "subtitle": "−y/−z (specimen)", "dx": -9},
      "data": {"name": "d"},
      "transform": [{"filter": "datum.p == 6"}],
      "encoding": {
        "x": {"field": "x", "type": "quantitative", "scale": {"domain": [-8.89, 9.22], "nice": false, "zero": false}, "axis": {"orient": "top", "offset": -185, "values": [-7.5, -5, -2.5, 2.5, 5, 7.5], "format": ".3~r"}},
        "y": {"field": "y", "type": "quantitative", "scale": {"domain": [-8.1, 8.1], "nice": false, "zero": false, "reverse": true}, "axis": {"orient": "left", "offset": -217, "values": [-7.5, -5, -2.5, 2.5, 5, 7.5], "format": ".3~r"}}
      },
      "layer": [
        {"transform": [{"filter": "datum.t == 'lh' || datum.t == 'lv'"}], "mark": {"type": "line", "clip": true, "strokeWidth": 1}, "encoding": {"detail": {"field": "t"}, "stroke": {"condition": {"test": "datum.t == 'lh'", "value": "#a3d48b"}, "value": "#ee6a60"}}},
        {"transform": [{"filter": "datum.t == 'h'"}], "mark": {"type": "line", "color": "#5f9fd8", "strokeWidth": 1}, "encoding": {"order": {"field": "i"}}},
        {"transform": [{"filter": "datum.t == 'v'"}], "mark": {"type": "line", "color": "#8fc4ee", "strokeWidth": 1}, "encoding": {"order": {"field": "i"}}},
        {"transform": [{"filter": "datum.t == 'h'"}], "mark": {"type": "point", "opacity": 1, "strokeWidth": 1},
         "encoding": {
           "size": {"condition": {"test": "datum.i == 1", "value": 120}, "value": 42},
           "fill": {"datum": "Horizontal Projection", "type": "nominal", "scale": {"domain": ["Horizontal Projection", "Vertical Projection", "Interpretation (τ1)"], "range": ["#6aaee0", "#ffffff", "transparent"]}, "legend": {"orient": "none", "legendX": 18, "legendY": 386, "direction": "horizontal", "title": null}},
           "stroke": {"datum": "Horizontal Projection", "type": "nominal", "scale": {"domain": ["Horizontal Projection", "Vertical Projection", "Interpretation (τ1)"], "range": ["#6aaee0", "#7ab9e8", "#a3d48b"]}, "legend": {"orient": "none", "legendX": 18, "legendY": 386, "direction": "horizontal", "title": null}},
           "shape": {"datum": "Horizontal Projection", "type": "nominal", "scale": {"domain": ["Horizontal Projection", "Vertical Projection", "Interpretation (τ1)"], "range": ["circle", "circle", "M-1.8,0H1.8"]}, "legend": {"orient": "none", "legendX": 18, "legendY": 386, "direction": "horizontal", "title": null}}
         }},
        {"transform": [{"filter": "datum.t == 'v'"}], "mark": {"type": "point", "opacity": 1, "strokeWidth": 1.2},
         "encoding": {
           "size": {"condition": {"test": "datum.i == 1", "value": 130}, "value": 48},
           "fill": {"datum": "Vertical Projection", "type": "nominal"},
           "stroke": {"datum": "Vertical Projection", "type": "nominal"},
           "shape": {"datum": "Vertical Projection", "type": "nominal"}
         }},
        {"transform": [{"filter": "(datum.t == 'h' || datum.t == 'v') && datum.lab"}], "mark": {"type": "text", "dy": -11, "fontSize": 9, "font": "Lato", "color": "#555555"}, "encoding": {"text": {"field": "lab"}}},
        {"transform": [{"filter": "datum.t == 's'"}], "mark": {"type": "text", "align": "right", "baseline": "middle", "font": "Liberation Serif", "fontSize": 24, "color": "#222222"}, "encoding": {"text": {"value": "Scale1×10"}}},
        {"transform": [{"filter": "datum.t == 's'"}], "mark": {"type": "text", "align": "left", "baseline": "middle", "dy": -8, "dx": 1, "font": "Liberation Serif", "fontSize": 12, "color": "#222222"}, "encoding": {"text": {"value": "-6"}}}
      ]
    }
  ],
  "config": {
    "view": {"stroke": null},
    "font": "Lato",
    "axis": {"grid": false, "title": null, "domainColor": "#3d4848", "domainWidth": 1, "tickColor": "#cccccc", "tickSize": 5, "labelColor": "#777777", "labelFontSize": 10, "labelFont": "Lato", "labelPadding": 3, "labelFlush": false, "labelOverlap": false},
    "title": {"font": "Liberation Serif", "fontSize": 30, "fontWeight": "normal", "color": "#222222", "subtitleFont": "Lato", "subtitleFontSize": 10, "subtitleColor": "#777777", "subtitlePadding": 1, "offset": 33, "anchor": "middle"},
    "legend": {"symbolSize": 45, "labelFont": "Lato", "labelFontSize": 10, "labelFontWeight": "bold", "labelColor": "#333333", "columnPadding": 22, "labelOffset": 7, "symbolStrokeWidth": 1.2}
  }
}
